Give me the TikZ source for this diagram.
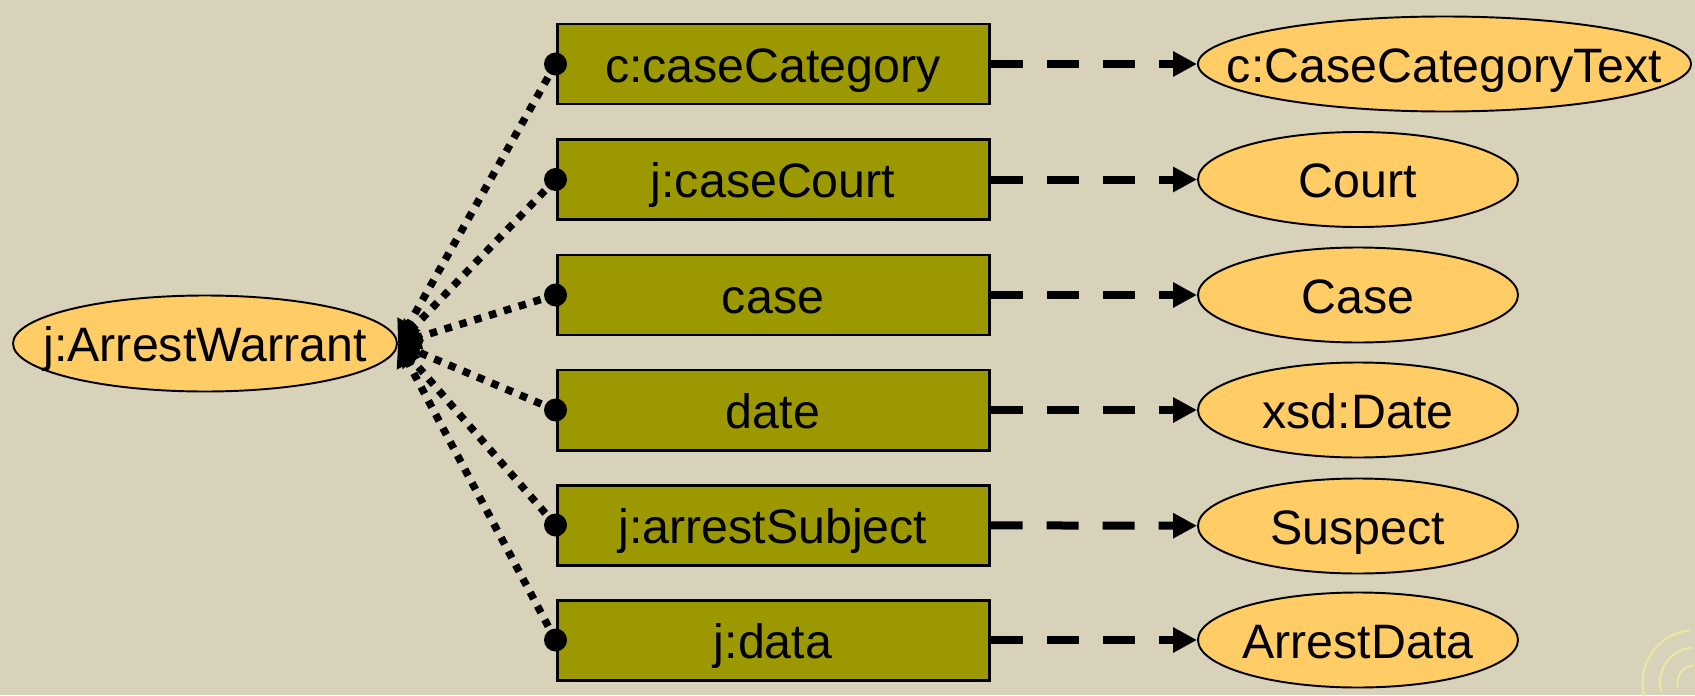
\documentclass[tikz,border=0pt]{standalone}
\usepackage{fontspec}
\setmainfont{Liberation Sans}
\usetikzlibrary{shapes.geometric,arrows.meta}

\definecolor{slidebg}{RGB}{216,210,187}
\definecolor{propfill}{RGB}{156,153,0}
\definecolor{clsfill}{RGB}{255,204,102}
\definecolor{swirlc}{RGB}{236,230,160}

% text that does not widen the ellipse
\newcommand{\tx}[1]{\makebox[0pt]{#1}}

\tikzset{
  prop/.style={draw,fill=propfill,line width=1.7pt,minimum width=8.64cm,
    minimum height=1.6cm,inner sep=0pt,text height=.72cm,text depth=0pt},
  cls/.style={ellipse,draw,fill=clsfill,line width=1.1pt,minimum width=6.4cm,
    minimum height=1.9cm,inner sep=0pt,text height=.72cm,text depth=0pt},
  dot/.style={fill,circle,inner sep=0pt,minimum size=.46cm},
  link/.style={line width=.15cm,dash pattern=on .15cm off .16cm,
    -{Triangle[length=.45cm,width=.5cm]}},
  rangelink/.style={line width=.16cm,dash pattern=on .64cm off .48cm,
    -{Triangle[length=.48cm,width=.48cm]}}
}

\begin{document}
\begin{tikzpicture}[font=\fontsize{27.5}{32}\selectfont]
  \def\bx {15.46}
  \def\ex {23.94}

  \fill[slidebg] (0,0) rectangle (33.9,13.9);
  \useasboundingbox (0,0) rectangle (33.9,13.9);

  % template swirl
  \foreach \r in {.35,.7,1.05}
    \draw[swirlc,line width=1.2pt] (33.9,.25) ++(195:\r) arc (195:95:\r);

  \node (aw) at (4.1,7.03) [cls,minimum width=7.68cm,minimum height=1.92cm] {\tx{j:ArrestWarrant}};

  \node (b1) at (\bx,12.62) [prop] {c:caseCategory};
  \node (b2) at (\bx,10.31) [prop] {j:caseCourt};
  \node (b3) at (\bx,8.00) [prop] {case};
  \node (b4) at (\bx,5.70) [prop] {date};
  \node (b5) at (\bx,3.40) [prop] {j:arrestSubject};
  \node (b6) at (\bx,1.10) [prop] {j:data};

  \node (t1) at (\ex,12.62) [cls,anchor=west,minimum width=9.86cm] {\tx{c:CaseCategoryText}};
  \node (t2) at (\ex,10.31) [cls,anchor=west] {\tx{Court}};
  \node (t3) at (\ex,8.00) [cls,anchor=west] {\tx{Case}};
  \node (t4) at (\ex,5.70) [cls,anchor=west] {\tx{xsd:Date}};
  \node (t5) at (\ex,3.38) [cls,anchor=west] {\tx{Suspect}};
  \node (t6) at (\ex,1.10) [cls,anchor=west] {\tx{ArrestData}};

  \draw[rangelink] (b1) -- (t1);
  \draw[rangelink] (b2) -- (t2);
  \draw[rangelink] (b3) -- (t3);
  \draw[rangelink] (b4) -- (t4);
  \draw[rangelink] (b5) -- (t5);
  \draw[rangelink] (b6) -- (t6);

  \node (d1) at (b1.west) [dot] {};
  \node (d2) at (b2.west) [dot] {};
  \node (d3) at (b3.west) [dot] {};
  \node (d4) at (b4.west) [dot] {};
  \node (d5) at (b5.west) [dot] {};
  \node (d6) at (b6.west) [dot] {};

  \draw[link] (d1.center) -- (aw.east);
  \draw[link] (d2.center) -- (aw.east);
  \draw[link] (d3.center) -- (aw.east);
  \draw[link] (d4.center) -- (aw.east);
  \draw[link] (d5.center) -- (aw.east);
  \draw[link] (d6.center) -- (aw.east);

\end{tikzpicture}
\end{document}
